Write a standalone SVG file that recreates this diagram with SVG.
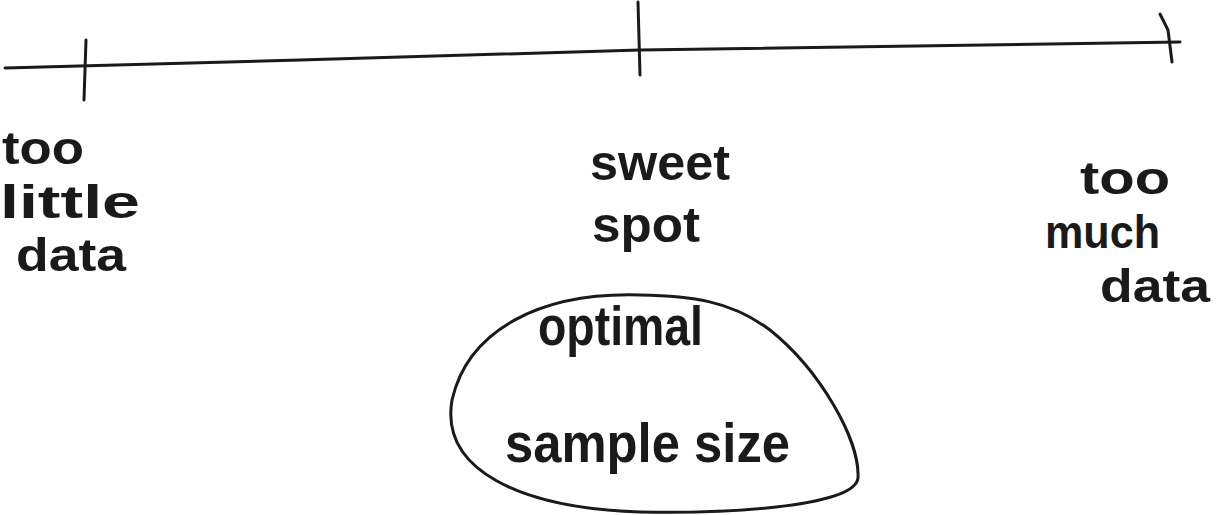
<svg xmlns="http://www.w3.org/2000/svg" width="1222" height="515" viewBox="0 0 1222 515">
<style>
.ln{fill:none;stroke:#1a1a1a;stroke-width:3;stroke-linecap:round;stroke-linejoin:round}
.t{font-family:"Liberation Sans",Arial,sans-serif;font-weight:bold;fill:#1a1a1a}
</style>
<rect width="1222" height="515" fill="#ffffff"/>
<g id="connectors">
<path class="ln" d="M5,68 L300,60 L640,50 L1180,42"/>
</g>
<g id="tick-left"><path class="ln" d="M86,40 L84,100"/></g>
<g id="tick-mid"><path class="ln" d="M638,2 L640,75"/></g>
<g id="tick-right"><path class="ln" d="M1160,14 L1168,30 L1172,62"/></g>
<g id="label-left">
<text class="t" font-size="46" x="2" y="164" textLength="82" lengthAdjust="spacingAndGlyphs">too</text>
<text class="t" font-size="46" x="0" y="218" textLength="140" lengthAdjust="spacingAndGlyphs">little</text>
<text class="t" font-size="46" x="16" y="271" textLength="110" lengthAdjust="spacingAndGlyphs">data</text>
</g>
<g id="label-mid">
<text class="t" font-size="50" x="590" y="180" textLength="140" lengthAdjust="spacingAndGlyphs">sweet</text>
<text class="t" font-size="50" x="592" y="242" textLength="108" lengthAdjust="spacingAndGlyphs">spot</text>
</g>
<g id="label-right">
<text class="t" font-size="46" x="1080" y="194" textLength="90" lengthAdjust="spacingAndGlyphs">too</text>
<text class="t" font-size="46" x="1045" y="248" textLength="115" lengthAdjust="spacingAndGlyphs">much</text>
<text class="t" font-size="46" x="1100" y="302" textLength="110" lengthAdjust="spacingAndGlyphs">data</text>
</g>
<g id="optimal">
<path class="ln" d="M640,295 C540,292 468,330 452,400 C440,470 520,508 640,512 C740,514 855,505 858,478 C860,440 820,370 770,330 C730,300 690,296 640,295 Z"/>
<text class="t" font-size="56" x="538" y="345" textLength="165" lengthAdjust="spacingAndGlyphs">optimal</text>
<text class="t" font-size="56" x="505" y="462" textLength="285" lengthAdjust="spacingAndGlyphs">sample size</text>
</g>
</svg>
